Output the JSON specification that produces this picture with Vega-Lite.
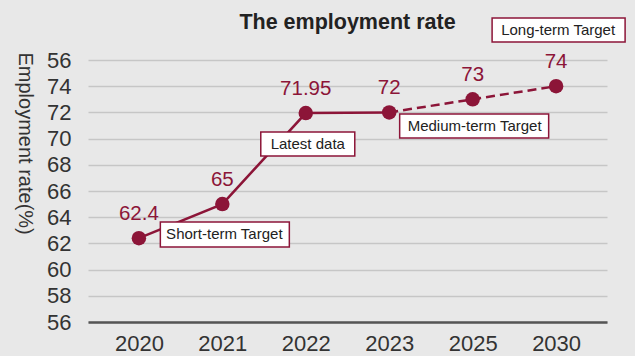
{
  "$schema": "https://vega.github.io/schema/vega-lite/v6.json",
  "autosize": {"type": "none"},
  "padding": {"left": 88, "top": 60, "right": 28, "bottom": 34},
  "width": 519,
  "height": 262,
  "background": "#e8e8e8",
  "title": {"text": "The employment rate", "font": "Liberation Sans", "fontSize": 21.5, "fontWeight": "bold", "color": "#222222", "anchor": "middle", "frame": "group", "offset": -16},
  "config": {
    "view": {"stroke": null},
    "font": "Liberation Sans"
  },
  "datasets": {
    "rates": [
      {"year": "2020", "rate": 62.4, "label": "62.4"},
      {"year": "2021", "rate": 65, "label": "65"},
      {"year": "2022", "rate": 71.95, "label": "71.95"},
      {"year": "2023", "rate": 72, "label": "72"},
      {"year": "2025", "rate": 73, "label": "73"},
      {"year": "2030", "rate": 74, "label": "74"}
    ],
    "notes": [
      {"year": "2021", "rate": 62.68, "note": "Short-term Target"},
      {"year": "2022", "rate": 69.59, "note": "Latest data"},
      {"year": "2025", "rate": 70.96, "note": "Medium-term Target"},
      {"year": "2030", "rate": 78.29, "note": "Long-term Target"}
    ]
  },
  "encoding": {
    "x": {
      "field": "year", "type": "ordinal",
      "sort": ["2020", "2021", "2022", "2023", "2025", "2030"],
      "scale": {"type": "point", "padding": 0.61, "domain": ["2020", "2021", "2022", "2023", "2025", "2030"]},
      "axis": {"title": null, "labelAngle": 0, "labelFontSize": 22, "labelColor": "#333333", "labelPadding": 11, "labelOverlap": false, "ticks": false, "domainColor": "#555555", "domainWidth": 2.5, "grid": false}
    },
    "y": {
      "field": "rate", "type": "quantitative",
      "scale": {"domain": [56, 76], "nice": false, "zero": false},
      "axis": {
        "title": "Employment rate(%)",
        "titleAngle": 90, "titleAlign": "left", "titleBaseline": "middle",
        "titleX": -64, "titleY": -8, "titleFontSize": 20, "titleFontWeight": "normal", "titleColor": "#333333",
        "values": [56, 58, 60, 62, 64, 66, 68, 70, 72, 74, 76],
        "labelExpr": "datum.value == 76 ? '56' : datum.label",
        "labelFontSize": 22, "labelColor": "#333333", "labelPadding": 17, "labelOverlap": false,
        "ticks": false, "domain": false,
        "grid": true, "gridColor": "#c6c6c6", "gridWidth": 1.3
      }
    }
  },
  "layer": [
    {
      "data": {"name": "rates"},
      "mark": {"type": "line", "color": "#8c1538", "strokeWidth": 2.5},
      "transform": [{"filter": "toNumber(datum.year) <= 2023"}]
    },
    {
      "data": {"name": "rates"},
      "mark": {"type": "line", "color": "#8c1538", "strokeWidth": 2.5, "strokeDash": [9, 5]},
      "transform": [{"filter": "toNumber(datum.year) >= 2023"}]
    },
    {
      "data": {"name": "rates"},
      "mark": {"type": "circle", "color": "#8c1538", "size": 210, "opacity": 1}
    },
    {
      "data": {"name": "rates"},
      "mark": {"type": "text", "color": "#8c1538", "fontSize": 20.5, "baseline": "middle", "dy": -24},
      "encoding": {"text": {"field": "label"}}
    },
    {
      "data": {"name": "notes"},
      "transform": [{"filter": "datum.note == 'Short-term Target'"}],
      "mark": {"type": "rect", "width": 129, "height": 25, "fill": "white", "stroke": "#8c1538", "strokeWidth": 1.5, "xOffset": 2.5}
    },
    {
      "data": {"name": "notes"},
      "transform": [{"filter": "datum.note == 'Latest data'"}],
      "mark": {"type": "rect", "width": 94, "height": 24, "fill": "white", "stroke": "#8c1538", "strokeWidth": 1.5, "xOffset": 2}
    },
    {
      "data": {"name": "notes"},
      "transform": [{"filter": "datum.note == 'Medium-term Target'"}],
      "mark": {"type": "rect", "width": 149, "height": 24, "fill": "white", "stroke": "#8c1538", "strokeWidth": 1.5, "xOffset": 1.5}
    },
    {
      "data": {"name": "notes"},
      "transform": [{"filter": "datum.note == 'Long-term Target'"}],
      "mark": {"type": "rect", "width": 133, "height": 24, "fill": "white", "stroke": "#8c1538", "strokeWidth": 1.5, "xOffset": 2.5}
    },
    {
      "data": {"name": "notes"},
      "mark": {"type": "text", "color": "#222222", "fontSize": 15, "baseline": "middle", "align": "center", "dx": 2},
      "encoding": {"text": {"field": "note"}}
    }
  ]
}
